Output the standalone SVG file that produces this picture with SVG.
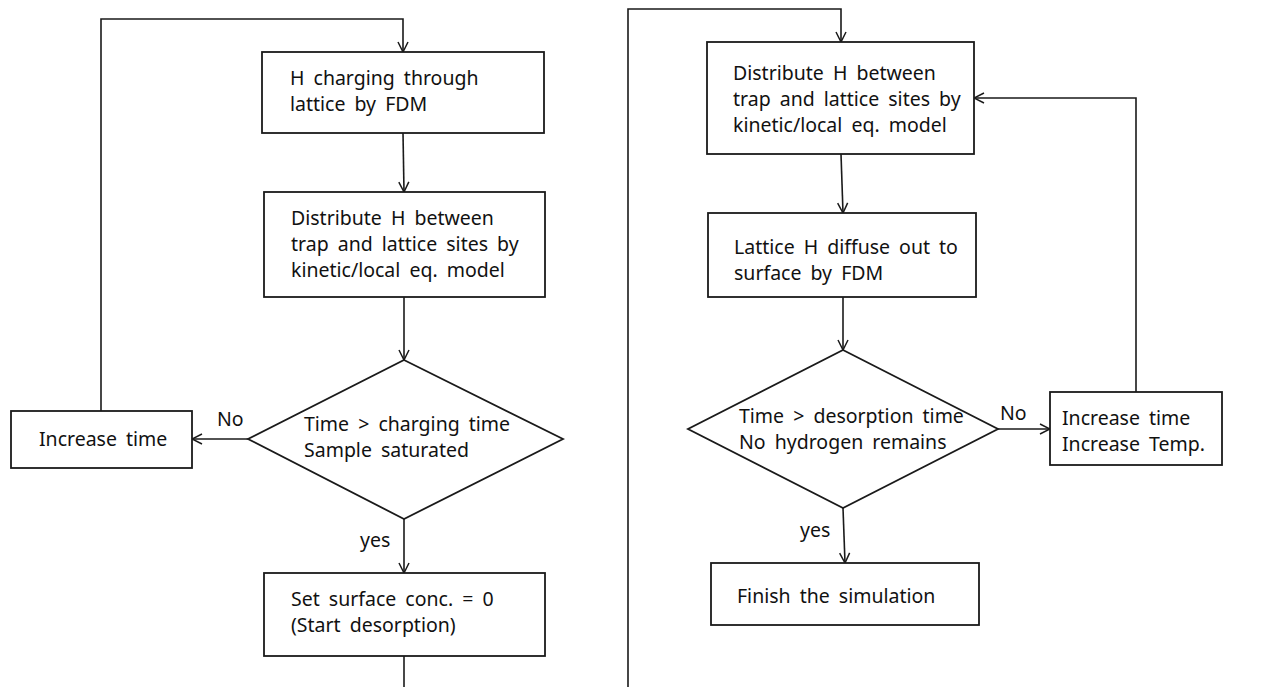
<svg xmlns="http://www.w3.org/2000/svg" width="1262" height="687" viewBox="0 0 1262 687">
<defs>
<marker id="arr" viewBox="0 0 12 12" refX="11" refY="6" markerWidth="12" markerHeight="12" markerUnits="userSpaceOnUse" orient="auto">
<path d="M1,1 L11,6 L1,11" fill="none" stroke="#1a1a1a" stroke-width="1.5"/>
</marker>
<style>
.box{fill:#fff;stroke:#1a1a1a;stroke-width:1.8}
.ln{fill:none;stroke:#1a1a1a;stroke-width:1.6}
.t{font-family:"Noto Sans","DejaVu Sans",sans-serif;font-size:19.5px;word-spacing:4px;fill:#111}
</style>
</defs>
<rect width="1262" height="687" fill="#fff"/>
<g id="connectors">
<path class="ln" d="M101,411 V19 H403 V52" marker-end="url(#arr)"/>
<path class="ln" d="M403,133 L404,192" marker-end="url(#arr)"/>
<path class="ln" d="M404,297 V360" marker-end="url(#arr)"/>
<path class="ln" d="M248,439 H192" marker-end="url(#arr)"/>
<path class="ln" d="M404,519 V573" marker-end="url(#arr)"/>
<path class="ln" d="M404,656 V687"/>
<path class="ln" d="M628,687 V9 H841 V42" marker-end="url(#arr)"/>
<path class="ln" d="M841,154 L843,213" marker-end="url(#arr)"/>
<path class="ln" d="M843,297 V350" marker-end="url(#arr)"/>
<path class="ln" d="M998,429 H1050" marker-end="url(#arr)"/>
<path class="ln" d="M1136,392 V98 H974" marker-end="url(#arr)"/>
<path class="ln" d="M843,508 L845,563" marker-end="url(#arr)"/>
<text class="t" x="217" y="426">No</text>
<text class="t" x="360" y="547">yes</text>
<text class="t" x="1000" y="420">No</text>
<text class="t" x="800" y="537">yes</text>
</g>
<g id="n1">
<rect class="box" x="262" y="52" width="282" height="81"/>
<text class="t" x="290" y="85">H charging through</text>
<text class="t" x="290" y="111">lattice by FDM</text>
</g>
<g id="n2">
<rect class="box" x="264" y="192" width="281" height="105"/>
<text class="t" x="291" y="225">Distribute H between</text>
<text class="t" x="291" y="251">trap and lattice sites by</text>
<text class="t" x="291" y="277">kinetic/local eq. model</text>
</g>
<g id="n3">
<polygon class="box" points="404,360 563,439 404,519 248,439"/>
<text class="t" x="304" y="431">Time &gt; charging time</text>
<text class="t" x="304" y="457">Sample saturated</text>
</g>
<g id="n4">
<rect class="box" x="11" y="411" width="181" height="57"/>
<text class="t" x="39" y="446">Increase time</text>
</g>
<g id="n5">
<rect class="box" x="264" y="573" width="281" height="83"/>
<text class="t" x="291" y="606">Set surface conc. = 0</text>
<text class="t" x="291" y="632">(Start desorption)</text>
</g>
<g id="n6">
<rect class="box" x="707" y="42" width="267" height="112"/>
<text class="t" x="733" y="80">Distribute H between</text>
<text class="t" x="733" y="106">trap and lattice sites by</text>
<text class="t" x="733" y="132">kinetic/local eq. model</text>
</g>
<g id="n7">
<rect class="box" x="708" y="213" width="268" height="84"/>
<text class="t" x="734" y="254">Lattice H diffuse out to</text>
<text class="t" x="734" y="280">surface by FDM</text>
</g>
<g id="n8">
<polygon class="box" points="843,350 998,429 843,508 688,429"/>
<text class="t" x="739" y="423">Time &gt; desorption time</text>
<text class="t" x="739" y="449">No hydrogen remains</text>
</g>
<g id="n9">
<rect class="box" x="1050" y="392" width="172" height="73"/>
<text class="t" x="1062" y="425">Increase time</text>
<text class="t" x="1062" y="451">Increase Temp.</text>
</g>
<g id="n10">
<rect class="box" x="711" y="563" width="268" height="62"/>
<text class="t" x="737" y="603">Finish the simulation</text>
</g>
</svg>
